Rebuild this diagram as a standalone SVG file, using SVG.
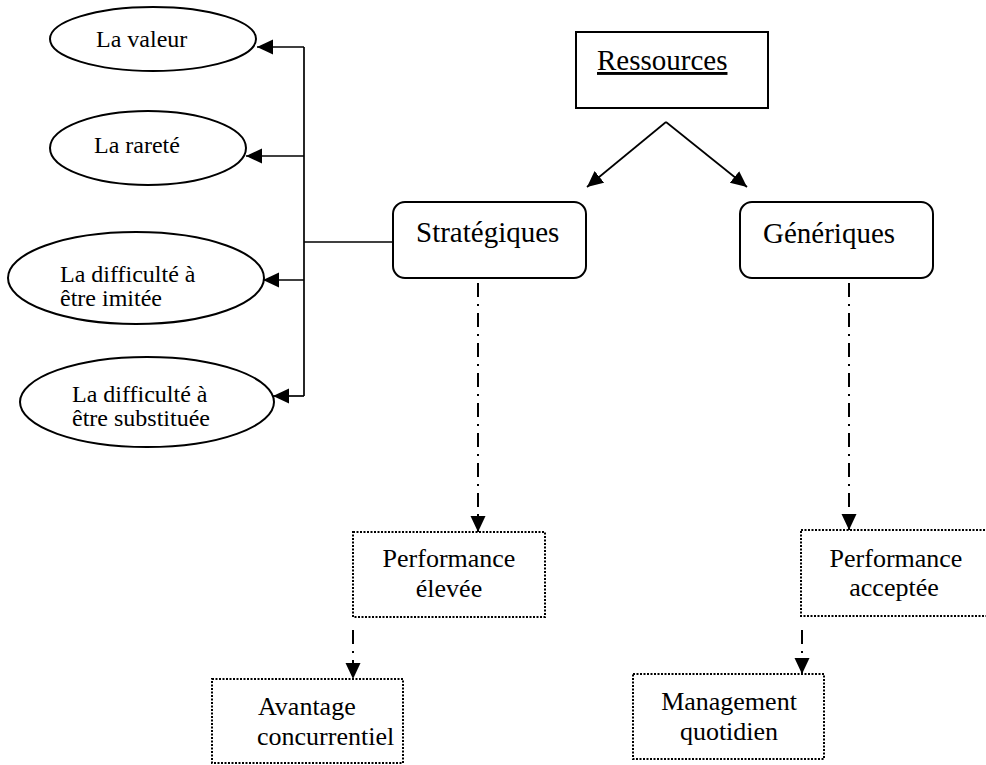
<svg xmlns="http://www.w3.org/2000/svg" width="986" height="765" viewBox="0 0 986 765">
  <style>
    text { font-family: "Liberation Serif", "Times New Roman", serif; fill: #000; }
    .t24 { font-size: 24px; }
    .t26 { font-size: 26px; }
    .t29 { font-size: 29px; }
    .shape { fill: #fff; stroke: #000; stroke-width: 2; }
    .dotted { fill: #fff; stroke: #000; stroke-width: 2; stroke-dasharray: 2 1.5; }
    .line { fill: none; stroke: #000; stroke-width: 1.7; }
    .dashdot { fill: none; stroke: #000; stroke-width: 2; stroke-dasharray: 14 7 2 7; }
  </style>
  <defs>
    <marker id="arrow" markerUnits="userSpaceOnUse" markerWidth="18" markerHeight="16" refX="16" refY="7.5" orient="auto">
      <path d="M0,0 L16,7.5 L0,15 Z" fill="#000"/>
    </marker>
  </defs>

  <!-- connectors -->
  <g id="connectors">
    <!-- Ressources to the two categories -->
    <line class="line" x1="666" y1="122" x2="587" y2="187" marker-end="url(#arrow)"/>
    <line class="line" x1="666" y1="122" x2="747" y2="187" marker-end="url(#arrow)"/>
    <!-- Stratégiques bracket to the four criteria -->
    <line class="line" x1="393" y1="242" x2="304" y2="242"/>
    <line class="line" x1="304" y1="47" x2="304" y2="396"/>
    <line class="line" x1="304" y1="47" x2="257" y2="47" marker-end="url(#arrow)"/>
    <line class="line" x1="304" y1="156" x2="246" y2="156" marker-end="url(#arrow)"/>
    <line class="line" x1="304" y1="280" x2="263" y2="280" marker-end="url(#arrow)"/>
    <line class="line" x1="304" y1="396" x2="273" y2="396" marker-end="url(#arrow)"/>
    <!-- dash-dot links down to performance and outcomes -->
    <line class="dashdot" x1="478" y1="283" x2="478" y2="532" marker-end="url(#arrow)"/>
    <line class="dashdot" x1="849" y1="283" x2="849" y2="530" marker-end="url(#arrow)"/>
    <line class="dashdot" x1="353" y1="630" x2="353" y2="679" marker-end="url(#arrow)"/>
    <line class="dashdot" x1="802" y1="630" x2="802" y2="674" marker-end="url(#arrow)"/>
  </g>

  <!-- criteria ellipses -->
  <g id="valeur">
    <ellipse class="shape" cx="153" cy="39" rx="103" ry="32"/>
    <text class="t24" x="96" y="47">La valeur</text>
  </g>
  <g id="rarete">
    <ellipse class="shape" cx="148" cy="148" rx="98" ry="37"/>
    <text class="t24" x="94" y="153">La rareté</text>
  </g>
  <g id="imitee">
    <ellipse class="shape" cx="136" cy="278" rx="128" ry="46"/>
    <text class="t24" x="60" y="282">La difficulté à</text>
    <text class="t24" x="60" y="306">être imitée</text>
  </g>
  <g id="substituee">
    <ellipse class="shape" cx="147" cy="402" rx="127" ry="45"/>
    <text class="t24" x="72" y="402">La difficulté à</text>
    <text class="t24" x="72" y="426">être substituée</text>
  </g>

  <!-- resource boxes -->
  <g id="ressources">
    <rect class="shape" x="576" y="32" width="192" height="76"/>
    <text class="t29" x="597" y="70" text-decoration="underline">Ressources</text>
  </g>
  <g id="strategiques">
    <rect class="shape" x="393" y="202" width="193" height="76" rx="12"/>
    <text class="t29" x="416" y="242">Stratégiques</text>
  </g>
  <g id="generiques">
    <rect class="shape" x="740" y="202" width="193" height="76" rx="12"/>
    <text class="t29" x="763" y="243">Génériques</text>
  </g>

  <!-- performance and outcome boxes -->
  <g id="perf-elevee">
    <rect class="dotted" x="353" y="532" width="192" height="85"/>
    <text class="t26" x="449" y="567" text-anchor="middle">Performance</text>
    <text class="t26" x="449" y="597" text-anchor="middle">élevée</text>
  </g>
  <g id="perf-acceptee">
    <rect class="dotted" x="801" y="530" width="192" height="86"/>
    <text class="t26" x="896" y="567" text-anchor="middle">Performance</text>
    <text class="t26" x="894" y="596" text-anchor="middle">acceptée</text>
  </g>
  <g id="avantage">
    <rect class="dotted" x="212" y="679" width="191" height="84"/>
    <text class="t26" x="258" y="715">Avantage</text>
    <text class="t26" x="257" y="745">concurrentiel</text>
  </g>
  <g id="management">
    <rect class="dotted" x="633" y="674" width="191" height="85"/>
    <text class="t26" x="729" y="710" text-anchor="middle">Management</text>
    <text class="t26" x="729" y="740" text-anchor="middle">quotidien</text>
  </g>
</svg>
